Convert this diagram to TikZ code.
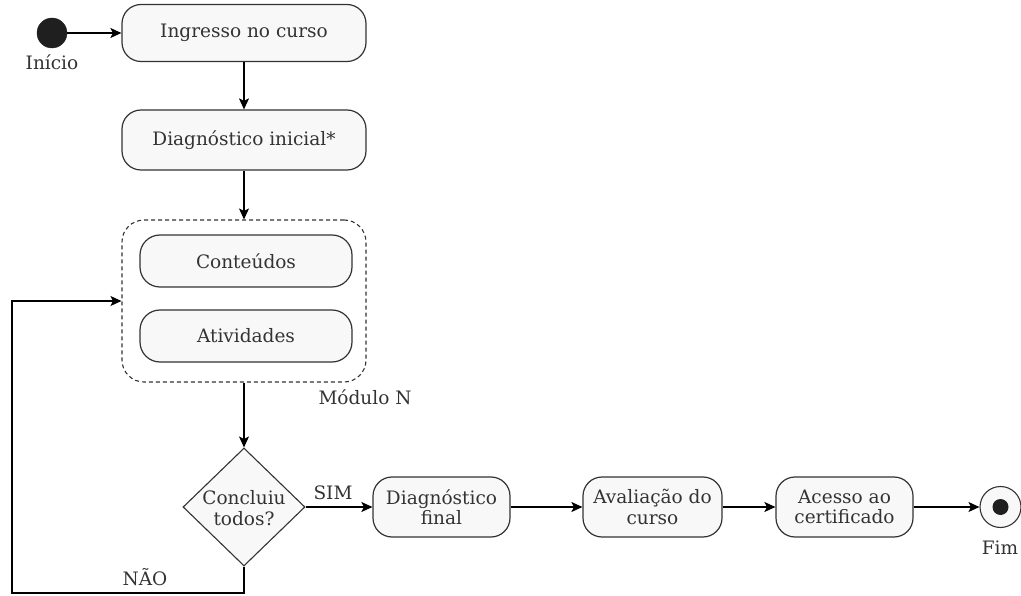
\documentclass[tikz,border=0pt]{standalone}
\usepackage{fontspec}
\setmainfont{DejaVu Serif}
\usetikzlibrary{shapes.geometric,arrows.meta,positioning}
\definecolor{ln}{HTML}{333333}
\definecolor{fl}{HTML}{F8F8F8}
\tikzset{
  box/.style={draw=ln, fill=fl, rounded corners=19pt, line width=1.2pt, align=center,
    font=\fontsize{18.5}{20.5}\selectfont, text=ln, inner sep=0pt},
  arr/.style={draw=black, line width=1.2pt, -{Stealth[length=11pt,width=10pt,inset=2.5pt]}},
  lbl/.style={font=\fontsize{18.5}{20.5}\selectfont, text=ln, inner sep=0pt},
}
\begin{document}
\begin{tikzpicture}[x=1pt,y=-1pt]
\useasboundingbox (0,0) rectangle (1021,596);
\node[circle, fill=black!88, draw=black!88, minimum size=30pt, inner sep=0pt] (start) at (52,33) {};
\node[lbl] (startl) at (52,62) {Início};
\node[box, minimum width=244pt, minimum height=57pt] (ing) at (244,33) {Ingresso no curso};
\node[box, minimum width=244pt, minimum height=60pt] (diag) at (244,140) {Diagnóstico inicial*};
\node[draw=ln, dash pattern=on 4pt off 3pt, line width=1.1pt, rounded corners=22pt, minimum width=244pt, minimum height=162pt, inner sep=0pt] (mod) at (244,301) {};
\node[box, minimum width=212pt, minimum height=52pt, rounded corners=20pt] (cont) at (246,261) {Conteúdos};
\node[box, minimum width=212pt, minimum height=52pt, rounded corners=20pt] (ativ) at (246,336) {Atividades};
\node[lbl] (modl) at (365,397) {Módulo N};
\node[diamond, draw=ln, fill=fl, line width=1.1pt, minimum width=122pt, minimum height=118pt, inner sep=0pt] (dia) at (244,507) {};
\node[lbl, align=center] (dial) at (244,508) {Concluiu\\todos?};
\node[box, minimum width=137pt, minimum height=60pt] (dfin) at (441.5,507) {Diagnóstico\\final};
\node[box, minimum width=139pt, minimum height=60pt] (aval) at (652.5,507) {Avaliação do\\curso};
\node[box, minimum width=137pt, minimum height=60pt] (aces) at (844.5,507) {Acesso ao\\certificado};
\node[circle, draw=ln, fill=fl, line width=1.1pt, minimum size=41pt, inner sep=0pt] (fim) at (1000.5,507) {};
\node[circle, fill=black!88, minimum size=16pt, inner sep=0pt] (fimd) at (fim.center) {};
\node[lbl] (fiml) at (1000,548) {Fim};
\node[lbl] (sim) at (333,493) {SIM};
\node[lbl] (nao) at (145,577) {NÃO};
\coordinate (lb) at (12,593);
\draw[arr] (start) -- (ing);
\draw[arr] (ing) -- (diag);
\draw[arr] (diag) -- (mod);
\draw[arr] (mod) -- (dia);
\draw[arr] (dia.east) -- (dfin);
\draw[arr] (dfin) -- (aval);
\draw[arr] (aval) -- (aces);
\draw[arr] (aces) -- (fim);
\draw[arr] (dia.south) |- (lb) |- (mod.west);
\end{tikzpicture}
\end{document}
